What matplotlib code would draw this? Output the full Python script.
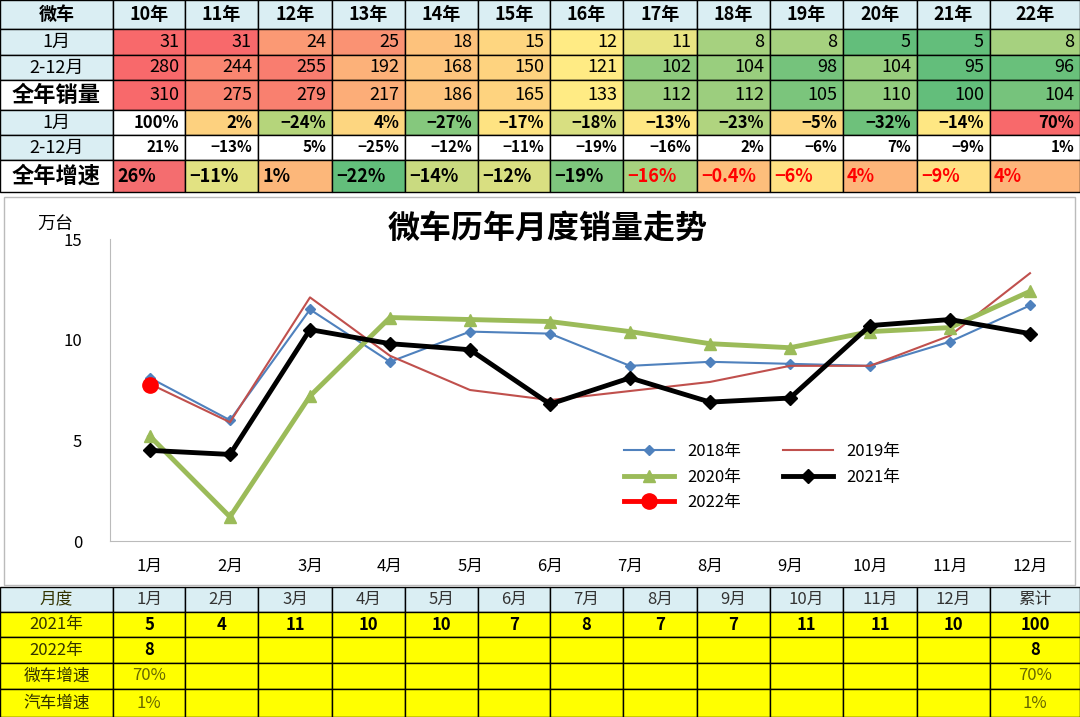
import matplotlib
matplotlib.use("Agg")
import matplotlib.pyplot as plt
from matplotlib.patches import Rectangle
import numpy as np

plt.rcParams["font.family"] = ["Noto Sans CJK SC", "DejaVu Sans"]

# ---------------- data ----------------
years = ["10年", "11年", "12年", "13年", "14年", "15年", "16年", "17年", "18年", "19年", "20年", "21年", "22年"]
jan_sales = [31, 31, 24, 25, 18, 15, 12, 11, 8, 8, 5, 5, 8]
feb_dec_sales = [280, 244, 255, 192, 168, 150, 121, 102, 104, 98, 104, 95, 96]
full_sales = [310, 275, 279, 217, 186, 165, 133, 112, 112, 105, 110, 100, 104]
jan_growth = ["100%", "2%", "-24%", "4%", "-27%", "-17%", "-18%", "-13%", "-23%", "-5%", "-32%", "-14%", "70%"]
feb_dec_growth = ["21%", "-13%", "5%", "-25%", "-12%", "-11%", "-19%", "-16%", "2%", "-6%", "7%", "-9%", "1%"]
full_growth = ["26%", "-11%", "1%", "-22%", "-14%", "-12%", "-19%", "-16%", "-0.4%", "-6%", "4%", "-9%", "4%"]
jan_growth_colors = ["#FFFFFF", "#FDD17F", "#B5D57B", "#FDD680", "#85C87D", "#FEE382", "#D8DF81",
                     "#FEE783", "#B0D47F", "#FED880", "#6EC17B", "#FEE783", "#F8696B"]
full_growth_colors = ["#F46D6F", "#E2E282", "#FCB77A", "#63BE7B", "#C9DA80", "#D9DF81", "#7EC67D",
                      "#A7D27F", "#FDBE7B", "#FFE283", "#FDB57A", "#FFE083", "#FDB57A"]

months = ["1月", "2月", "3月", "4月", "5月", "6月", "7月", "8月", "9月", "10月", "11月", "12月"]
s2018 = [8.1, 6.0, 11.5, 8.9, 10.4, 10.3, 8.7, 8.9, 8.8, 8.7, 9.9, 11.7]
s2019 = [7.8, 5.9, 12.1, 9.2, 7.5, 7.0, 7.45, 7.9, 8.7, 8.7, 10.2, 13.3]
s2020 = [5.2, 1.2, 7.2, 11.1, 11.0, 10.9, 10.4, 9.8, 9.6, 10.4, 10.6, 12.4]
s2021 = [4.5, 4.3, 10.5, 9.8, 9.5, 6.8, 8.1, 6.9, 7.1, 10.7, 11.0, 10.3]
s2022 = [7.75]

bt_header = months + ["累计"]
bt_2021 = ["5", "4", "11", "10", "10", "7", "8", "7", "7", "11", "11", "10", "100"]
bt_2022 = ["8"] + [""] * 11 + ["8"]
bt_micro = ["70%"] + [""] * 11 + ["70%"]
bt_auto = ["1%"] + [""] * 11 + ["1%"]

W, H = 1080, 717
fig = plt.figure(figsize=(W / 100, H / 100), dpi=100)
ov = fig.add_axes([0, 0, 1, 1])
ov.set_xlim(0, W); ov.set_ylim(H, 0); ov.axis("off")

col_edges = [0, 113, 185, 258, 332, 405, 478, 550, 623, 697, 770, 843, 917, 990, 1080]
LB = "#DAEEF3"


def scale_color(v, vals):
    lo, hi = min(vals), max(vals)
    mid = np.percentile(vals, 50)
    g, y, r = np.array([0x63, 0xBE, 0x7B]), np.array([0xFF, 0xEB, 0x84]), np.array([0xF8, 0x69, 0x6B])
    if v <= mid:
        t = (v - lo) / (mid - lo) if mid > lo else 0
        c = g + (y - g) * t
    else:
        t = (v - mid) / (hi - mid)
        c = y + (r - y) * t
    return c / 255


def cell(x0, x1, y0, y1, fc, text="", tc="black", fs=12, bold=False, ha="center", lw=1.0):
    ov.add_patch(Rectangle((x0, y0), x1 - x0, y1 - y0, facecolor=fc, edgecolor="black", lw=lw))
    if text != "":
        if ha == "center":
            tx = (x0 + x1) / 2
        elif ha == "right":
            tx = x1 - 6
        else:
            tx = x0 + 4
        ov.text(tx, (y0 + y1) / 2, text, ha=ha, va="center", color=tc, fontsize=fs,
                fontweight="bold" if bold else "normal")


# ---- top table ----
row_edges = [0, 29, 55, 80, 110, 135, 160, 192]
row_labels = ["微车", "1月", "2-12月", "全年销量", "1月", "2-12月", "全年增速"]
for r in range(7):
    y0, y1 = row_edges[r], row_edges[r + 1]
    big = row_labels[r] in ("全年销量", "全年增速")
    cell(0, 113, y0, y1, "white" if big else LB, row_labels[r], fs=16 if big else 13,
         bold=big or r == 0)
for i, yr in enumerate(years):
    x0, x1 = col_edges[i + 1], col_edges[i + 2]
    cell(x0, x1, 0, 29, LB, yr, fs=13, bold=True)
    for r, arr in zip(range(1, 4), [jan_sales, feb_dec_sales, full_sales]):
        cell(x0, x1, row_edges[r], row_edges[r + 1], scale_color(arr[i], arr), str(arr[i]), fs=13, ha="right")
    cell(x0, x1, row_edges[4], row_edges[5], jan_growth_colors[i], jan_growth[i].replace("-", "−"),
         fs=12, bold=True, ha="right")
    cell(x0, x1, row_edges[5], row_edges[6], "white", feb_dec_growth[i].replace("-", "−"),
         fs=11, bold=True, ha="right")
    cell(x0, x1, row_edges[6], row_edges[7], full_growth_colors[i], full_growth[i].replace("-", "−"),
         tc="red" if i >= 7 else "black", fs=13, bold=True, ha="left")

# ---- bottom table ----
brow = [587, 612, 637, 663, 689, 717]
blabels = ["月度", "2021年", "2022年", "微车增速", "汽车增速"]
bdata = [bt_header, bt_2021, bt_2022, bt_micro, bt_auto]
for r in range(5):
    y0, y1 = brow[r], brow[r + 1]
    fc = LB if r == 0 else "#FFFF00"
    cell(0, 113, y0, y1, fc, blabels[r], tc="#333300", fs=12)
    for i in range(13):
        txt = bdata[r][i]
        if r == 0:
            tc, bold = "#333333", False
        elif r in (1, 2):
            tc, bold = "black", True
        else:
            tc, bold = "#666600", False
        cell(col_edges[i + 1], col_edges[i + 2], y0, y1, fc, txt, tc=tc, fs=12, bold=bold)

# ---- chart frame ----
ov.add_patch(Rectangle((4, 197), 1071, 388, facecolor="white", edgecolor="#BBBBBB", lw=1))

# ---- chart ----
ax = fig.add_axes([110 / W, 1 - 541 / H, 960 / W, (541 - 239) / H])
x = np.arange(1, 13)
h18, = ax.plot(x, s2018, color="#4F81BD", lw=1.5, marker="D", ms=5, label="2018年")
h19, = ax.plot(x, s2019, color="#C0504D", lw=1.5, label="2019年")
h20, = ax.plot(x, s2020, color="#9BBB59", lw=3.5, marker="^", ms=9, label="2020年")
h21, = ax.plot(x, s2021, color="black", lw=3.5, marker="D", ms=7, label="2021年")
h22, = ax.plot(x[:len(s2022)], s2022, color="red", lw=3.5, marker="o", ms=11, label="2022年")
ax.set_xlim(0.5, 12.5)
ax.set_ylim(0, 15)
ax.set_yticks([0, 5, 10, 15])
ax.set_xticks(x)
ax.set_xticklabels(months)
ax.tick_params(axis="both", labelsize=12, length=0, pad=12)
ax.tick_params(axis="y", pad=20)
for s in ["top", "right"]:
    ax.spines[s].set_visible(False)
ax.spines["left"].set_color("#BBBBBB")
ax.spines["bottom"].set_color("#BBBBBB")
ax.patch.set_alpha(0)
ax.legend([h18, h20, h22, h19, h21], ["2018年", "2020年", "2022年", "2019年", "2021年"],
          loc="lower left", bbox_to_anchor=(0.52, 0.05), ncol=2, frameon=False, fontsize=12,
          handlelength=3, columnspacing=2.5)
ov.text(548, 229, "微车历年月度销量走势", ha="center", va="center", fontsize=23, fontweight="bold")
ov.text(55, 225, "万台", ha="center", va="center", fontsize=13)

fig.savefig("out.png", dpi=100)
